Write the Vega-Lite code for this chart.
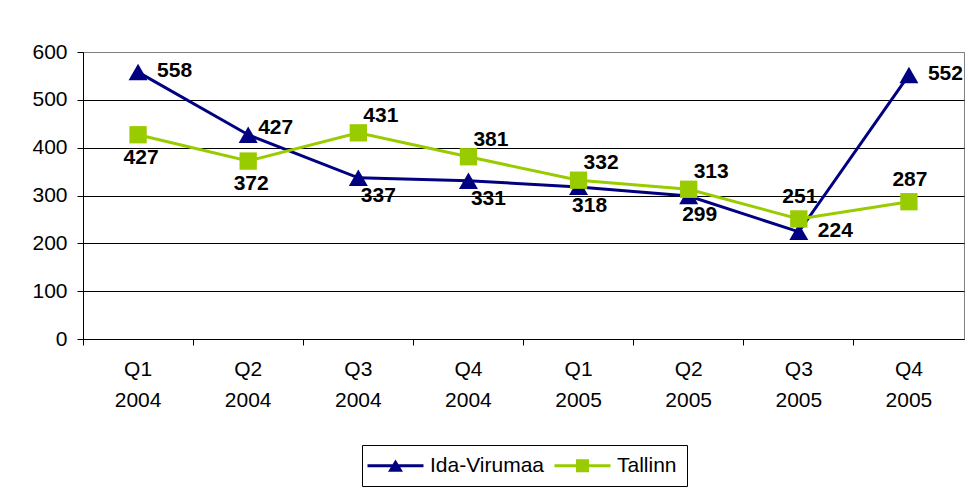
{
  "$schema": "https://vega.github.io/schema/vega-lite/v6.json",
  "width": 881,
  "height": 287,
  "autosize": {"type": "none"},
  "padding": {"left": 83, "top": 52, "right": 7, "bottom": 149},
  "background": "white",
  "config": {
    "font": "Liberation Sans",
    "view": {"stroke": "#808080", "strokeWidth": 1},
    "legend": {
      "labelFont": "Liberation Sans",
      "labelFontSize": 21,
      "labelColor": "black",
      "symbolSize": 196,
      "symbolOffset": 13,
      "labelOffset": 24,
      "symbolStrokeWidth": 0,
      "symbolOpacity": 1,
      "strokeColor": "black",
      "fillColor": "white",
      "padding": 10,
      "columnPadding": 9
    }
  },
  "data": {
    "values": [
      {"quarter": "Q1 2004", "series": "Ida-Virumaa", "value": 558},
      {"quarter": "Q2 2004", "series": "Ida-Virumaa", "value": 427},
      {"quarter": "Q3 2004", "series": "Ida-Virumaa", "value": 337},
      {"quarter": "Q4 2004", "series": "Ida-Virumaa", "value": 331},
      {"quarter": "Q1 2005", "series": "Ida-Virumaa", "value": 318},
      {"quarter": "Q2 2005", "series": "Ida-Virumaa", "value": 299},
      {"quarter": "Q3 2005", "series": "Ida-Virumaa", "value": 224},
      {"quarter": "Q4 2005", "series": "Ida-Virumaa", "value": 552},
      {"quarter": "Q1 2004", "series": "Tallinn", "value": 427},
      {"quarter": "Q2 2004", "series": "Tallinn", "value": 372},
      {"quarter": "Q3 2004", "series": "Tallinn", "value": 431},
      {"quarter": "Q4 2004", "series": "Tallinn", "value": 381},
      {"quarter": "Q1 2005", "series": "Tallinn", "value": 332},
      {"quarter": "Q2 2005", "series": "Tallinn", "value": 313},
      {"quarter": "Q3 2005", "series": "Tallinn", "value": 251},
      {"quarter": "Q4 2005", "series": "Tallinn", "value": 287}
    ]
  },
  "encoding": {
    "x": {
      "field": "quarter",
      "type": "nominal",
      "sort": null,
      "scale": {"type": "band", "paddingInner": 0, "paddingOuter": 0},
      "axis": {
        "title": null,
        "labelAngle": 0,
        "labelExpr": "split(datum.label, ' ')",
        "labelFont": "Liberation Sans",
        "labelFontSize": 21,
        "labelColor": "black",
        "labelLineHeight": 31,
        "labelPadding": 13,
        "domainColor": "black",
        "tickColor": "black",
        "tickSize": 6,
        "bandPosition": 0,
        "grid": false
      }
    },
    "y": {
      "field": "value",
      "type": "quantitative",
      "scale": {"domain": [0, 600], "nice": false},
      "axis": {
        "title": null,
        "values": [0, 100, 200, 300, 400, 500, 600],
        "labelFont": "Liberation Sans",
        "labelFontSize": 21,
        "labelColor": "black",
        "labelPadding": 10,
        "domainColor": "black",
        "tickColor": "black",
        "tickSize": 6,
        "grid": true,
        "gridColor": {"condition": {"test": "datum.value === 600", "value": "#808080"}, "value": "black"},
        "gridOpacity": 1
      }
    }
  },
  "layer": [
    {
      "mark": {"type": "line", "strokeWidth": 3},
      "encoding": {
        "color": {"field": "series", "type": "nominal", "scale": {"range": ["#000080", "#99CC00"]}, "legend": null}
      }
    },
    {
      "transform": [{"filter": "datum.series === 'Ida-Virumaa'"}],
      "mark": {"type": "point", "filled": true, "opacity": 1, "size": 360, "shape": "triangle-up"},
      "encoding": {"color": {"field": "series", "type": "nominal", "legend": null}}
    },
    {
      "transform": [{"filter": "datum.series === 'Tallinn'"}],
      "mark": {"type": "point", "filled": true, "opacity": 1, "size": 300, "shape": "square"},
      "encoding": {"color": {"field": "series", "type": "nominal", "legend": null}}
    },
    {
      "mark": {"type": "point", "filled": true, "opacity": 0},
      "encoding": {
        "fill": {
          "field": "series",
          "type": "nominal",
          "scale": {"domain": ["Ida-Virumaa", "Tallinn"], "range": ["#000080", "#99CC00"]},
          "legend": {"orient": "none", "legendX": 279, "legendY": 393, "direction": "horizontal", "title": null, "symbolOpacity": 1}
        },
        "shape": {
          "field": "series",
          "type": "nominal",
          "scale": {"domain": ["Ida-Virumaa", "Tallinn"], "range": ["M-4,-0.22H4V0.22H-4Z M0,-0.9L1.07,0.86L-1.07,0.86Z", "M-4,-0.22H4V0.22H-4Z M-0.93,-0.93H0.93V0.93H-0.93Z"]},
          "legend": {"orient": "none", "legendX": 279, "legendY": 393, "direction": "horizontal", "title": null, "symbolOpacity": 1}
        }
      }
    },
    {
      "transform": [{"filter": "datum.series === 'Ida-Virumaa' && indexof(['Q1 2004', 'Q3 2005', 'Q4 2005'], datum.quarter) >= 0"}],
      "mark": {"type": "text", "align": "left", "baseline": "middle", "dx": 19, "dy": -1, "fontSize": 21, "fontWeight": "bold", "color": "black"},
      "encoding": {"text": {"field": "value", "type": "quantitative"}}
    },
    {
      "transform": [{"filter": "datum.series === 'Ida-Virumaa' && datum.quarter === 'Q2 2004'"}],
      "mark": {"type": "text", "align": "left", "baseline": "middle", "dx": 10, "dy": -7, "fontSize": 21, "fontWeight": "bold", "color": "black"},
      "encoding": {"text": {"field": "value", "type": "quantitative"}}
    },
    {
      "transform": [{"filter": "datum.series === 'Ida-Virumaa' && indexof(['Q3 2004', 'Q4 2004'], datum.quarter) >= 0"}],
      "mark": {"type": "text", "align": "center", "baseline": "middle", "dx": 20, "dy": 18, "fontSize": 21, "fontWeight": "bold", "color": "black"},
      "encoding": {"text": {"field": "value", "type": "quantitative"}}
    },
    {
      "transform": [{"filter": "datum.series === 'Ida-Virumaa' && indexof(['Q1 2005', 'Q2 2005'], datum.quarter) >= 0"}],
      "mark": {"type": "text", "align": "center", "baseline": "middle", "dx": 11, "dy": 19, "fontSize": 21, "fontWeight": "bold", "color": "black"},
      "encoding": {"text": {"field": "value", "type": "quantitative"}}
    },
    {
      "transform": [{"filter": "datum.series === 'Tallinn' && indexof(['Q1 2004', 'Q2 2004'], datum.quarter) >= 0"}],
      "mark": {"type": "text", "align": "center", "baseline": "middle", "dx": 3, "dy": 23, "fontSize": 21, "fontWeight": "bold", "color": "black"},
      "encoding": {"text": {"field": "value", "type": "quantitative"}}
    },
    {
      "transform": [{"filter": "datum.series === 'Tallinn' && indexof(['Q3 2004', 'Q4 2004', 'Q1 2005', 'Q2 2005'], datum.quarter) >= 0"}],
      "mark": {"type": "text", "align": "left", "baseline": "middle", "dx": 5, "dy": -17, "fontSize": 21, "fontWeight": "bold", "color": "black"},
      "encoding": {"text": {"field": "value", "type": "quantitative"}}
    },
    {
      "transform": [{"filter": "datum.series === 'Tallinn' && indexof(['Q3 2005', 'Q4 2005'], datum.quarter) >= 0"}],
      "mark": {"type": "text", "align": "center", "baseline": "middle", "dx": 1, "dy": -22, "fontSize": 21, "fontWeight": "bold", "color": "black"},
      "encoding": {"text": {"field": "value", "type": "quantitative"}}
    }
  ]
}
